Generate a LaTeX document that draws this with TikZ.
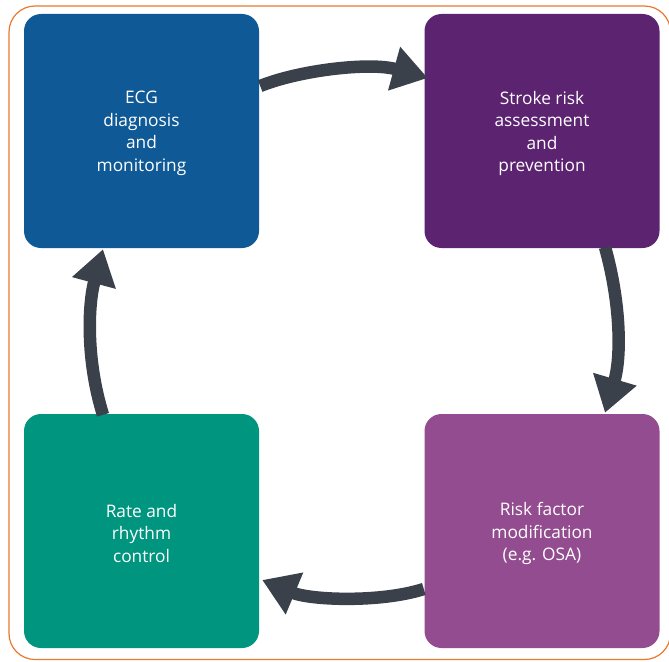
\documentclass[tikz,border=0pt]{standalone}
\usepackage{fontspec}
\setmainfont{Open Sans}
\usetikzlibrary{arrows.meta}
\definecolor{cblue}{HTML}{0F5A96}
\definecolor{cpurple}{HTML}{5B2370}
\definecolor{cteal}{HTML}{00957F}
\definecolor{cmag}{HTML}{934C8F}
\definecolor{carrow}{HTML}{3A414B}
\definecolor{cframe}{HTML}{E8792E}
\tikzset{
  box/.style={rounded corners=17pt, minimum width=235pt, minimum height=234pt, inner sep=0pt},
  label/.style={text=white, align=center, inner sep=0pt, font=\fontsize{17.3pt}{22.6pt}\selectfont},
  flow/.style={draw=carrow, line width=12.5pt, -{Triangle[length=35pt,width=43pt]}}
}
\begin{document}
\begin{tikzpicture}[x=1pt,y=-1pt]
\useasboundingbox (0,0) rectangle (669,661);
\begin{scope}
\clip (0,0) rectangle (669,661);
\draw[cframe, line width=1.2pt, rounded corners=26pt] (9,6) rectangle (670.5,659.5);
\end{scope}
\node[box, fill=cblue] (ecg) at (141.5,131) {};
\node[box, fill=cpurple] (stroke) at (542,131) {};
\node[box, fill=cmag] (risk) at (542,531) {};
\node[box, fill=cteal] (rate) at (141.5,531) {};
\node[label] (ecgt) at (141.5,133.5) {ECG\\diagnosis\\and\\monitoring};
\node[label] (strokt) at (542,133.5) {Stroke risk\\assessment\\and\\prevention};
\node[label] (riskt) at (542,533.5) {Risk factor\\modification\\(e.g. OSA)};
\node[label] (ratet) at (141.5,533.5) {Rate and\\rhythm\\control};
\coordinate (a1s) at ([xshift=1pt,yshift=45pt]ecg.east);
\coordinate (a1e) at ([xshift=3.5pt,yshift=53pt]stroke.west);
\coordinate (a2s) at ([xshift=63pt,yshift=1pt]stroke.south);
\coordinate (a2e) at ([xshift=63pt,yshift=1pt]risk.north);
\coordinate (a3s) at ([xshift=-0.5pt,yshift=-58pt]risk.west);
\coordinate (a3e) at ([xshift=3pt,yshift=-49pt]rate.east);
\coordinate (a4s) at ([xshift=-38.5pt,yshift=-1pt]rate.north);
\coordinate (a4e) at ([xshift=-38.5pt,yshift=-1pt]ecg.south);
\draw[flow] (a1s) .. controls (300,70) and (370,62) .. (a1e);
\draw[flow] (a2s) .. controls (620,300) and (622,355) .. (a2e);
\draw[flow] (a3s) .. controls (380,603) and (310,600) .. (a3e);
\draw[flow] (a4s) .. controls (86,360) and (88,305) .. (a4e);
\end{tikzpicture}
\end{document}
